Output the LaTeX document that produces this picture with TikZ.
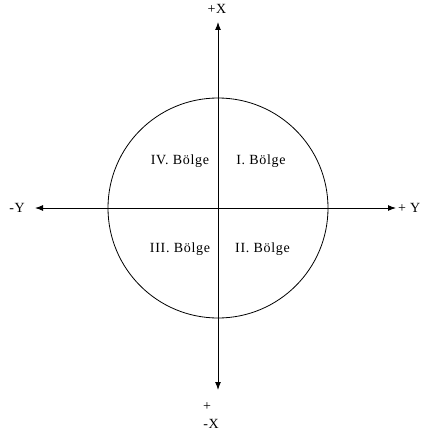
\documentclass[tikz,border=0pt]{standalone}
\usepackage{fontspec}
\setmainfont{Liberation Serif}[LetterSpace=5]
\usetikzlibrary{arrows.meta}
\begin{document}
\begin{tikzpicture}[x=1pt,y=-1pt,
  axis/.style={line width=1pt,-{Latex[length=8pt,width=6pt]}},
  lbl/.style={font=\fontsize{14}{16}\selectfont,inner sep=0pt,anchor=base}]
\useasboundingbox (0,0) rectangle (421,433);
\clip (0,0) rectangle (421,433);
\node[draw,circle,line width=0.8pt,minimum size=220pt,inner sep=0pt] (c) at (218,208) {};
\coordinate (o) at (218,208);
\coordinate (xt) at (218,22);
\coordinate (xb) at (218,390);
\coordinate (yl) at (35,208);
\coordinate (yr) at (396,208);
\draw[axis] (o) -- (xt);
\draw[axis] (o) -- (xb);
\draw[axis] (o) -- (yl);
\draw[axis] (o) -- (yr);
\node[lbl] (px) at (217,13.5) {+X};
\node[lbl] (my) at (17,212) {-Y};
\node[lbl,anchor=base east] (py) at (420.5,212) {+ Y};
\node[lbl] (pl) at (207,410) {+};
\node[lbl] (mx) at (211,428) {-X};
\node[lbl] (q4) at (180,164) {IV. Bölge};
\node[lbl] (q1) at (261,164) {I. Bölge};
\node[lbl] (q3) at (180,252) {III. Bölge};
\node[lbl] (q2) at (262.5,252) {II. Bölge};
\end{tikzpicture}
\end{document}
